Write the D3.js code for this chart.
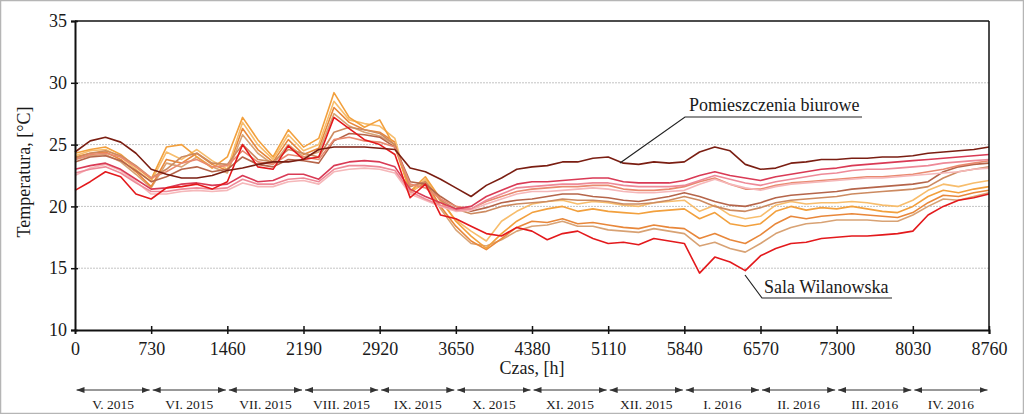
<!DOCTYPE html>
<html>
<head>
<meta charset="utf-8">
<script src="https://d3js.org/d3.v7.min.js"></script>
<style>
  html, body { margin: 0; padding: 0; background: #fff; }
  svg { display: block; }
  text { font-family: "Liberation Serif", "Times New Roman", serif; fill: #1a1a1a; }
</style>
</head>
<body>
<script>
// ---------- DATA ----------
const hours = [0,146,292,438,584,730,876,1022,1168,1314,1460,1606,1752,1898,2044,2190,2336,2482,2628,2774,2920,3066,3212,3358,3504,3650,3796,3942,4088,4234,4380,4526,4672,4818,4964,5110,5256,5402,5548,5694,5840,5986,6132,6278,6424,6570,6716,6862,7008,7154,7300,7446,7592,7738,7884,8030,8176,8322,8468,8614,8760];

const xTicks = [0,730,1460,2190,2920,3650,4380,5110,5840,6570,7300,8030,8760];
const yTicks = [10,15,20,25,30,35];
const gridValues = [15,20,25,30];
const monthLabels = ["V. 2015","VI. 2015","VII. 2015","VIII. 2015","IX. 2015","X. 2015","XI. 2015","XII. 2015","I. 2016","II. 2016","III. 2016","IV. 2016"];

// Pomieszczenia biurowe (dark brown)
const seriesBiurowe = [24.4,25.3,25.6,25.2,24.3,23.0,22.6,22.3,22.3,22.5,22.9,23.1,23.4,23.6,23.6,23.8,24.6,24.8,24.8,24.8,24.7,24.6,23.1,22.8,22.2,21.5,20.8,21.7,22.3,23.0,23.2,23.3,23.6,23.6,23.9,24.0,23.5,23.4,23.6,23.5,23.6,24.4,24.8,24.5,23.4,23.0,23.1,23.5,23.6,23.8,23.8,23.9,23.9,24.0,24.0,24.1,24.3,24.4,24.5,24.6,24.8];
// Sala Wilanowska (red)
const seriesWilanowska = [21.3,22.0,22.8,22.4,21.0,20.6,21.5,21.6,21.8,21.4,22.0,25.0,23.2,23.0,24.9,23.8,24.0,27.2,26.3,25.4,25.0,24.2,20.7,21.8,19.3,19.0,18.4,17.8,17.6,18.3,18.0,17.3,17.8,18.0,17.4,17.0,17.1,16.9,17.4,17.2,17.0,14.6,15.9,15.5,14.8,16.0,16.6,17.0,17.1,17.4,17.5,17.6,17.6,17.7,17.8,18.0,19.3,20.0,20.5,20.7,21.0];
const seriesCrimson = [23.0,23.3,23.5,23.0,22.2,21.4,21.5,21.8,21.9,21.7,21.8,22.5,22.0,22.1,22.6,22.6,22.2,23.3,23.6,23.7,23.6,23.2,21.4,20.8,20.3,19.8,20.0,20.8,21.3,21.8,22.0,22.0,22.1,22.2,22.3,22.3,22.0,21.9,21.9,21.9,22.1,22.5,22.8,22.5,22.3,22.1,22.4,22.6,22.8,23.0,23.1,23.3,23.4,23.5,23.6,23.7,23.8,23.9,24.0,24.1,24.2];
const seriesPink = [22.7,23.0,23.2,22.7,21.9,21.2,21.2,21.4,21.5,21.4,21.5,22.2,21.8,21.8,22.2,22.3,22.0,23.0,23.3,23.3,23.2,22.9,21.2,20.6,20.1,19.7,19.8,20.5,21.0,21.5,21.6,21.7,21.8,21.8,21.9,21.9,21.7,21.6,21.6,21.6,21.7,22.1,22.5,22.2,21.9,21.7,22.0,22.2,22.4,22.6,22.7,22.9,23.0,23.0,23.1,23.2,23.3,23.5,23.6,23.7,23.8];
const seriesLightPink = [22.5,23.1,23.4,22.9,22.0,21.0,21.0,21.2,21.3,21.2,21.3,21.9,21.6,21.6,22.0,22.1,21.8,22.8,23.0,23.1,23.0,22.7,21.0,20.5,20.0,19.6,19.7,20.2,20.6,21.0,21.2,21.2,21.3,21.4,21.5,21.4,21.2,21.1,21.1,21.2,21.3,21.8,22.2,21.8,21.5,21.3,21.6,21.8,21.9,22.0,22.1,22.2,22.3,22.3,22.4,22.5,22.6,22.7,22.8,23.0,23.1];
const seriesSalmon = [23.8,24.2,24.3,24.0,23.2,22.3,22.8,23.5,23.8,23.2,23.3,24.5,23.6,23.4,24.2,24.0,23.8,25.4,25.6,25.3,25.2,24.8,21.8,21.5,20.6,20.0,19.8,20.4,20.8,21.2,21.4,21.5,21.6,21.6,21.7,21.7,21.4,21.3,21.3,21.4,21.6,22.0,22.3,21.8,21.4,21.4,21.7,21.9,22.0,22.1,22.2,22.3,22.4,22.4,22.5,22.6,22.8,23.0,23.3,23.5,23.7];
const seriesBrown = [23.6,24.0,24.1,23.7,22.9,22.0,22.4,23.0,23.2,22.8,23.0,24.0,23.4,23.2,23.8,23.7,23.5,25.3,25.9,25.8,25.6,24.8,22.0,21.8,20.8,20.0,19.6,19.9,20.3,20.5,20.6,20.8,21.0,21.0,20.8,20.7,20.5,20.4,20.6,20.8,21.1,20.8,20.4,20.1,20.0,20.3,20.7,20.9,21.0,21.1,21.2,21.4,21.5,21.6,21.7,21.8,22.0,22.8,23.2,23.4,23.5];
const seriesTanBrown = [23.9,24.3,24.5,24.1,23.3,22.3,23.0,24.0,24.3,23.5,23.4,25.0,23.8,23.6,24.6,24.3,24.0,26.0,26.4,26.2,25.9,25.0,21.6,22.0,20.5,19.8,19.4,19.6,20.0,20.2,20.3,20.4,20.6,20.5,20.5,20.4,20.2,20.2,20.3,20.5,20.8,20.5,20.0,19.7,19.6,19.9,20.3,20.5,20.6,20.7,20.8,21.0,21.1,21.2,21.3,21.4,21.6,22.3,22.8,23.0,23.2];
const seriesOrange = [24.3,24.6,24.8,24.2,23.2,22.2,24.8,25.0,24.0,23.1,24.0,27.2,25.4,24.0,26.2,24.8,25.5,29.2,27.2,26.4,27.0,24.8,21.2,22.4,20.6,18.8,17.6,16.6,17.8,18.8,19.5,19.8,20.0,19.6,19.8,19.6,19.5,19.4,19.6,19.7,19.8,19.0,19.5,18.6,18.4,18.6,19.6,20.0,19.7,19.9,19.8,20.0,19.8,19.6,19.5,20.0,20.8,21.3,21.1,21.4,21.6];
const seriesLightOrange = [24.1,24.5,24.6,24.0,23.0,22.0,24.4,23.8,24.6,23.7,23.0,26.8,25.0,23.8,25.8,24.5,25.0,28.5,27.0,26.7,26.5,25.5,21.0,22.2,20.4,18.9,18.0,17.2,18.8,19.6,20.2,20.4,20.5,20.2,20.4,20.3,20.1,20.0,20.3,20.4,20.5,19.6,20.1,19.3,19.0,19.2,20.1,20.4,20.2,20.3,20.3,20.4,20.3,20.1,20.0,20.5,21.3,21.8,21.6,21.9,22.1];
const seriesDarkOrange = [24.0,24.3,24.4,23.8,22.8,21.6,23.8,23.5,24.3,23.4,22.9,26.3,24.6,23.6,25.4,24.2,24.7,28.0,26.8,26.2,26.0,25.2,21.1,22.0,20.0,18.4,17.2,16.5,17.4,18.3,18.8,18.7,19.0,18.6,18.7,18.5,18.3,18.2,18.5,18.3,18.2,17.4,17.8,17.3,17.0,17.7,18.6,19.2,19.0,19.2,19.3,19.4,19.3,19.2,19.1,19.5,20.3,20.9,20.8,21.1,21.3];
const seriesTan = [23.8,24.1,24.2,23.6,22.6,21.5,23.5,23.2,24.0,23.2,22.7,25.8,24.3,23.4,25.0,24.0,24.4,27.5,26.5,26.0,25.7,25.0,21.3,21.8,19.8,18.1,17.0,16.8,17.3,18.0,18.4,18.5,18.8,18.4,18.4,18.1,18.0,17.9,18.2,18.0,17.8,16.8,17.1,16.6,16.3,17.0,17.8,18.3,18.6,18.7,18.9,18.9,18.9,18.8,18.8,19.3,20.0,20.6,20.5,20.8,21.1];

// drawing order (back to front) with colours
const seriesList = [
  {values: seriesTan,         color: "#d8a274"},
  {values: seriesDarkOrange,  color: "#e8873a"},
  {values: seriesLightOrange, color: "#f7bd6c"},
  {values: seriesOrange,      color: "#f2a03d"},
  {values: seriesTanBrown,    color: "#cc8a60"},
  {values: seriesBrown,       color: "#b5654a"},
  {values: seriesSalmon,      color: "#e98a70"},
  {values: seriesLightPink,   color: "#f5b7b9"},
  {values: seriesPink,        color: "#ee8a98"},
  {values: seriesCrimson,     color: "#d93a55"},
  {values: seriesWilanowska,  color: "#e3191c"},
  {values: seriesBiurowe,     color: "#7a1e12"}
];

// ---------- CHART ----------
const W = 1024, H = 414;
const svg = d3.select("body").append("svg").attr("width", W).attr("height", H);
svg.append("rect").attr("x",0.5).attr("y",0.5).attr("width",W-1).attr("height",H-1)
  .attr("fill","#fff").attr("stroke","#b5b5b5").attr("stroke-width",1.5);

const x = d3.scaleLinear().domain([0, 8760]).range([75, 989]);
const y = d3.scaleLinear().domain([10, 35]).range([330, 21]);

// grid
svg.append("g").selectAll("line").data(gridValues).join("line")
  .attr("x1", x(0)).attr("x2", x(8760))
  .attr("y1", d => y(d)).attr("y2", d => y(d))
  .attr("stroke", "#c4c4c4").attr("stroke-width", 1).attr("stroke-dasharray", "2,1");

// lines
const line = d3.line().x((d, i) => x(hours[i])).y(d => y(d));
svg.append("g").selectAll("path").data(seriesList).join("path")
  .attr("d", d => line(d.values))
  .attr("fill", "none").attr("stroke", d => d.color)
  .attr("stroke-width", 1.6).attr("stroke-linejoin", "round");

// frame
svg.append("line").attr("x1", x(0)).attr("x2", x(8760)).attr("y1", y(35)).attr("y2", y(35))
  .attr("stroke", "#111").attr("stroke-width", 1.5);
svg.append("line").attr("x1", x(8760)).attr("x2", x(8760)).attr("y1", y(35)).attr("y2", y(10))
  .attr("stroke", "#111").attr("stroke-width", 1.5);

// y axis
const yAxis = svg.append("g").attr("transform", `translate(${x(0)},0)`)
  .call(d3.axisLeft(y).tickValues(yTicks).tickSize(4).tickPadding(4).tickFormat(d3.format("d")));
yAxis.select(".domain").attr("stroke", "#111").attr("stroke-width", 2);
yAxis.selectAll(".tick line").attr("x1", 3).attr("x2", -4).attr("stroke", "#111").attr("stroke-width", 1.5);
yAxis.selectAll(".tick text").attr("font-size", 18).attr("font-family", "Liberation Serif").attr("fill", "#1a1a1a");

// x axis
const xAxis = svg.append("g").attr("transform", `translate(0,${y(10)})`)
  .call(d3.axisBottom(x).tickValues(xTicks).tickSize(4).tickPadding(8).tickFormat(d3.format("d")));
xAxis.select(".domain").attr("stroke", "#111").attr("stroke-width", 2);
xAxis.selectAll(".tick line").attr("y1", -4).attr("y2", 4).attr("stroke", "#111").attr("stroke-width", 1.5);
xAxis.selectAll(".tick text").attr("font-size", 18).attr("font-family", "Liberation Serif").attr("fill", "#1a1a1a");
xAxis.selectAll(".tick").filter(d => d === 0).select("line").remove();

// axis titles
svg.append("text").attr("x", 532).attr("y", 374).attr("text-anchor", "middle")
  .attr("font-size", 18).text("Czas, [h]");
svg.append("text").attr("transform", "translate(30,172) rotate(-90)").attr("text-anchor", "middle")
  .attr("font-size", 18).text("Temperatura, [°C]");

// month arrows
const defs = svg.append("defs");
defs.append("marker").attr("id", "ah").attr("viewBox", "0 0 8 6").attr("refX", 8).attr("refY", 3)
  .attr("markerWidth", 8).attr("markerHeight", 6).attr("markerUnits", "userSpaceOnUse")
  .attr("orient", "auto-start-reverse")
  .append("path").attr("d", "M0,0 L8,3 L0,6 Z").attr("fill", "#333");

const months = monthLabels.map((m, i) => ({label: m, start: xTicks[i], end: xTicks[i + 1]}));
const mg = svg.append("g");
mg.selectAll("line").data(months).join("line")
  .attr("x1", d => x(d.start) + 1.5).attr("x2", d => x(d.end) - 1.5)
  .attr("y1", 390).attr("y2", 390)
  .attr("stroke", "#333").attr("stroke-width", 1)
  .attr("marker-start", "url(#ah)").attr("marker-end", "url(#ah)");
mg.selectAll("text").data(months).join("text")
  .attr("x", d => x((d.start + d.end) / 2)).attr("y", 409)
  .attr("text-anchor", "middle").attr("font-size", 13.5).attr("fill", "#333")
  .text(d => d.label);

// annotations
const ann = svg.append("g");
ann.append("polyline").attr("points", "620,163 685,117 862,117")
  .attr("fill", "none").attr("stroke", "#222").attr("stroke-width", 1.2);
ann.append("text").attr("x", 689).attr("y", 111).attr("font-size", 18).text("Pomieszczenia biurowe");
ann.append("polyline").attr("points", "745,275 762,298 892,298")
  .attr("fill", "none").attr("stroke", "#222").attr("stroke-width", 1.2);
ann.append("text").attr("x", 764).attr("y", 293).attr("font-size", 18).text("Sala Wilanowska");
</script>
</body>
</html>
